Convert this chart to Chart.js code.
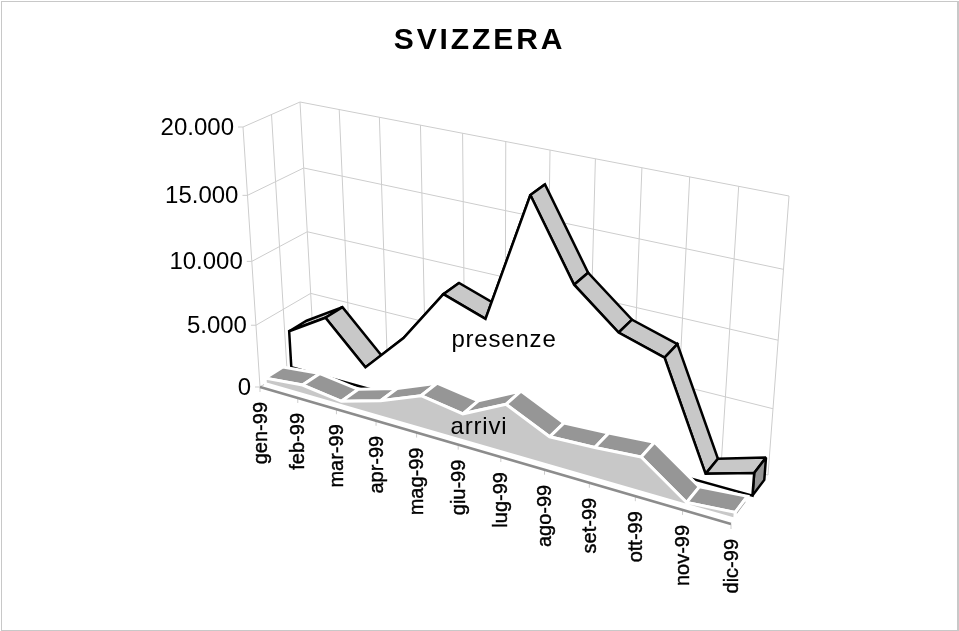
<!DOCTYPE html>
<html>
<head>
<meta charset="utf-8">
<style>
  html, body { margin: 0; padding: 0; background: #fff; overflow: hidden; }
  #cornice { position: absolute; left: 1px; top: 1px; width: 955px; height: 628px; border: 1px solid #c8c8c8; border-right-width: 2px; pointer-events: none; }
  canvas { position: absolute; left: 0; top: 0; }
</style>
</head>
<body>
<canvas id="grafico" width="959" height="631"></canvas>
<div id="cornice"></div>
<script src="https://cdn.jsdelivr.net/npm/chart.js@4"></script>
<script>
const mesi = ["gen-99", "feb-99", "mar-99", "apr-99", "mag-99", "giu-99", "lug-99", "ago-99", "set-99", "ott-99", "nov-99", "dic-99"]
const presenze = [3000, 4900, 1700, 4900, 9100, 8000, 17800, 12100, 9400, 8400, 650, 1700]
const arrivi = [450, 770, 350, 1300, 2600, 2100, 3750, 2200, 2350, 2600, 200, 500]
const yTicks = [0, 5000, 10000, 15000, 20000]
const yTickLabels = ["0", "5.000", "10.000", "15.000", "20.000"]

// corners of the 3D box on the page
const box = {
    flb: [260, 387], flt: [243, 127],
    blb: [314, 353], blt: [300, 102],
    frb: [731, 524], frt: [754, 235],
    brb: [768, 475], brt: [789, 196],
}
const prospU = 1.147
const prospV = 1.07
const griglia = "#cdcdcd"

function mix(a, b, t) { return [a[0] + (b[0] - a[0]) * t, a[1] + (b[1] - a[1]) * t] }
function prosp(t, k) { return t / (t + (1 - t) * k) }

// u, v, d all 0..1: along the months, up the values, into the depth
function proietta(u, v, d) {
    let su = prosp(u, prospU), sv = prosp(v, prospV)
    let davanti = mix(mix(box.flb, box.frb, su), mix(box.flt, box.frt, su), sv)
    let dietro = mix(mix(box.blb, box.brb, su), mix(box.blt, box.brt, su), sv)
    return mix(davanti, dietro, d)
}

function linea(ctx, a, b, colore, spessore) {
    ctx.strokeStyle = colore
    ctx.lineWidth = spessore
    ctx.beginPath()
    ctx.moveTo(a[0], a[1])
    ctx.lineTo(b[0], b[1])
    ctx.stroke()
}

function poligono(ctx, punti, fill, stroke, spessore) {
    ctx.beginPath()
    punti.forEach((p, i) => i ? ctx.lineTo(p[0], p[1]) : ctx.moveTo(p[0], p[1]))
    ctx.closePath()
    ctx.fillStyle = fill
    ctx.fill()
    ctx.strokeStyle = stroke
    ctx.lineWidth = spessore
    ctx.lineJoin = "miter"
    ctx.miterLimit = 2
    ctx.stroke()
}

function disegnaPareti(chart) {
    let ctx = chart.ctx, xs = chart.scales.x, ys = chart.scales.y
    let area = chart.chartArea
    let vOf = val => (area.bottom - ys.getPixelForValue(val)) / (area.bottom - area.top)
    let uOf = i => (xs.getPixelForValue(i) - area.left) / (area.right - area.left)

    // walls: horizontal lines
    yTicks.forEach((val, i) => {
        let v = vOf(val)
        linea(ctx, proietta(0, v, 0), proietta(0, v, 1), griglia, 1)
        linea(ctx, proietta(0, v, 1), proietta(1, v, 1), griglia, 1)
        let t = proietta(0, v, 0)
        linea(ctx, [t[0] - 5, t[1]], t, griglia, 1)
        ctx.fillStyle = "#000"
        ctx.font = "24px 'Liberation Sans'"
        ctx.textAlign = "right"
        ctx.textBaseline = "middle"
        ctx.fillText(yTickLabels[i], t[0] - 9, t[1] + 1)
    })
    // walls: vertical lines
    linea(ctx, proietta(0, 0, 0), proietta(0, 1, 0), griglia, 1)
    linea(ctx, proietta(0, 0, 0.5), proietta(0, 1, 0.5), griglia, 1)
    mesi.forEach((m, i) => {
        let u = uOf(i)
        linea(ctx, proietta(u, 0, 1), proietta(u, 1, 1), griglia, 1)
    })
    linea(ctx, proietta(0, 0, 0), proietta(0, 0, 1), griglia, 1)

    // month ticks and labels
    mesi.forEach((m, i) => {
        let t = proietta(uOf(i), 0, 0)
        linea(ctx, t, [t[0], t[1] + 5], griglia, 1)
        ctx.save()
        ctx.translate(t[0] + 1, t[1] + 15)
        ctx.rotate(-Math.PI / 2)
        ctx.fillStyle = "#000"
        ctx.strokeStyle = "#000"
        ctx.lineWidth = 0.4
        ctx.font = "20px 'Liberation Sans'"
        ctx.textAlign = "right"
        ctx.textBaseline = "middle"
        ctx.fillText(m, 0, 0)
        ctx.strokeText(m, 0, 0)
        ctx.restore()
    })
    linea(ctx, proietta(0, 0, 0), proietta(1, 0, 0), "#8c8c8c", 2.5)
}

// one series as a 3D area: ribbon on top, flat front, end cap
function disegnaSerie(chart, indice, d0, d1, colFronte, colNastro, colBordo, spessore) {
    let ctx = chart.ctx, area = chart.chartArea
    let punti = chart.getDatasetMeta(indice).data
    let uv = punti.map(p => [
        (p.x - area.left) / (area.right - area.left),
        (area.bottom - p.y) / (area.bottom - area.top),
    ])
    for (let i = 0; i < uv.length - 1; i++) {
        let a = uv[i], b = uv[i + 1]
        poligono(ctx, [proietta(a[0], a[1], d0), proietta(b[0], b[1], d0), proietta(b[0], b[1], d1), proietta(a[0], a[1], d1)], colNastro, colBordo, spessore)
    }
    let ultimo = uv[uv.length - 1], primo = uv[0]
    poligono(ctx, [proietta(1, 0, d0), proietta(1, ultimo[1], d0), proietta(1, ultimo[1], d1), proietta(1, 0, d1)], "#969696", colBordo, spessore)
    let fronte = [proietta(primo[0], 0, d0)]
    uv.forEach(p => fronte.push(proietta(p[0], p[1], d0)))
    fronte.push(proietta(ultimo[0], 0, d0))
    poligono(ctx, fronte, colFronte, colBordo, spessore)
}

const tresD = {
    id: "tresD",
    beforeDraw(chart) { chart.ctx.letterSpacing = "2.9px" },
    beforeDatasetsDraw(chart) {
        let ctx = chart.ctx
        ctx.letterSpacing = "0px"
        disegnaPareti(chart)
        disegnaSerie(chart, 0, 0.58, 0.9, "#ffffff", "#c8c8c8", "#000000", 2.5)
        disegnaSerie(chart, 1, 0.1, 0.43, "#c8c8c8", "#969696", "#ffffff", 3)
        ctx.fillStyle = "#000"
        ctx.font = "24px 'Liberation Sans'"
        ctx.textAlign = "center"
        ctx.textBaseline = "middle"
        ctx.letterSpacing = "0.8px"
        ctx.fillText("presenze", 504, 340)
        ctx.fillText("arrivi", 479, 427)
        ctx.letterSpacing = "0px"
    },
}

let config = {
    type: "line",
    data: {
        labels: mesi,
        datasets: [
            { label: "presenze", data: presenze, showLine: false, pointRadius: 0 },
            { label: "arrivi", data: arrivi, showLine: false, pointRadius: 0 },
        ],
    },
    options: {
        responsive: false,
        animation: false,
        devicePixelRatio: 1,
        layout: { padding: 0 },
        plugins: {
            legend: { display: false },
            tooltip: { enabled: false },
            title: {
                display: true,
                text: "SVIZZERA",
                color: "#000",
                font: { family: "'Liberation Sans'", size: 30, weight: "bold" },
                padding: { top: 23, bottom: 10 },
            },
        },
        scales: {
            x: { display: false, offset: false, ticks: { autoSkip: false } },
            y: { display: false, min: 0, max: 20000, ticks: { stepSize: 5000 } },
        },
    },
    plugins: [tresD],
}
let grafico = new Chart(document.getElementById("grafico"), config)
</script>
</body>
</html>
